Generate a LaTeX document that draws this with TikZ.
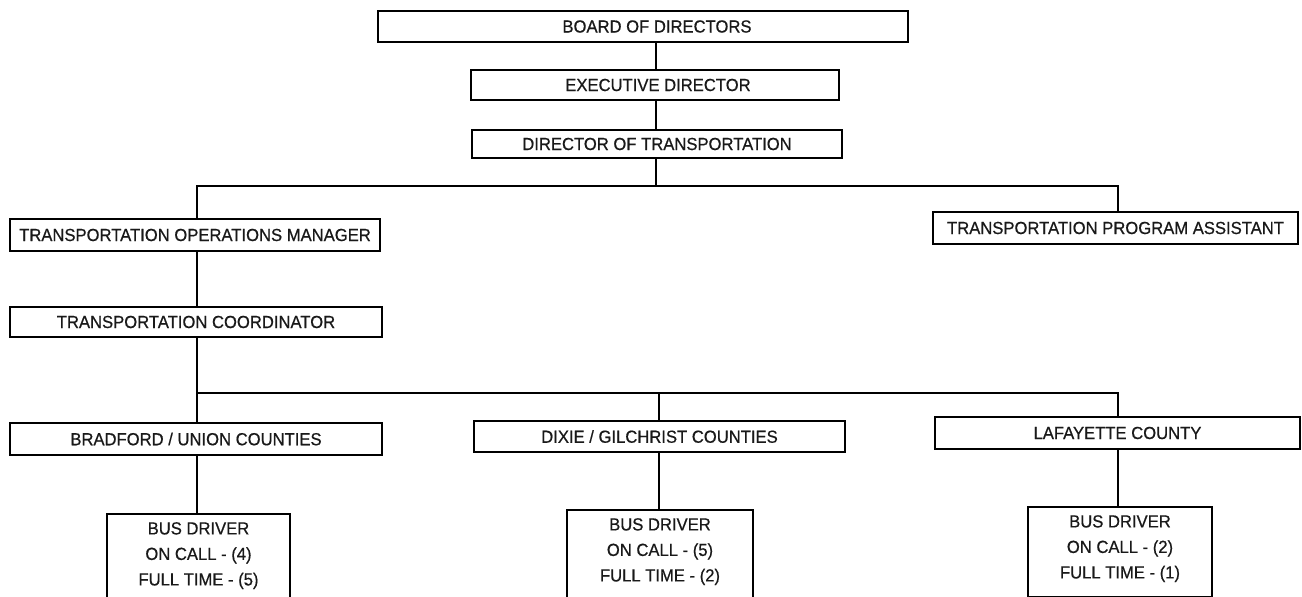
\documentclass[tikz,border=0pt]{standalone}
\usepackage{fontspec}
\setmainfont{Liberation Sans}[FakeStretch=0.95,FakeBold=0.6]
\begin{document}
\begin{tikzpicture}[x=1pt,y=-1pt,
  box/.style={draw, line width=1.6pt, inner sep=0pt, font=\fontsize{17.5}{20}\selectfont, text=black!90},
  wire/.style={line width=1.6pt},
  bustext/.style={anchor=north, inner sep=0pt, align=center, font=\fontsize{17.5}{25.5}\selectfont, text=black!90}]
\useasboundingbox (0,0) rectangle (1302,597);
% boxes
\node[box, minimum width=530pt, minimum height=31pt] (board) at (643,26.5) {\hspace*{28pt}BOARD OF DIRECTORS};
\node[box, minimum width=368pt, minimum height=30pt] (exec) at (655,85) {\hspace*{6pt}EXECUTIVE DIRECTOR};
\node[box, minimum width=370pt, minimum height=28pt] (dot) at (657,144) {DIRECTOR OF TRANSPORTATION};
\node[box, minimum width=370pt, minimum height=32pt] (tom) at (195,235) {TRANSPORTATION OPERATIONS MANAGER};
\node[box, minimum width=365pt, minimum height=32pt] (tpa) at (1115.5,228) {TRANSPORTATION PROGRAM ASSISTANT};
\node[box, minimum width=372pt, minimum height=30pt] (tc) at (196,322) {TRANSPORTATION COORDINATOR};
\node[box, minimum width=372pt, minimum height=32pt] (brad) at (196,439) {BRADFORD / UNION COUNTIES};
\node[box, minimum width=371pt, minimum height=31pt] (dixie) at (659.5,436.5) {DIXIE / GILCHRIST COUNTIES};
\node[box, minimum width=365pt, minimum height=32pt] (laf) at (1117.5,433) {LAFAYETTE COUNTY};
\node[box, anchor=north, minimum width=183pt, minimum height=97pt] (bus1) at (198.5,513) {};
\node[box, anchor=north, minimum width=186pt, minimum height=97pt] (bus2) at (660,509) {};
\node[box, anchor=north, minimum width=184pt, minimum height=90pt] (bus3) at (1120,506) {};
\node[bustext] (bus1t) at ([yshift=-9pt]bus1.north) {BUS DRIVER\\ON CALL - (4)\\FULL TIME - (5)};
\node[bustext] (bus2t) at ([yshift=-9pt]bus2.north) {BUS DRIVER\\ON CALL - (5)\\FULL TIME - (2)};
\node[bustext] (bus3t) at ([yshift=-9pt]bus3.north) {BUS DRIVER\\ON CALL - (2)\\FULL TIME - (1)};
% junction coordinates
\coordinate (c1) at (656,0);
\coordinate (j1) at (656,186);
\coordinate (j1l) at (197,186);
\coordinate (j1r) at (1118,186);
\coordinate (c2) at (197,0);
\coordinate (j2) at (197,393);
\coordinate (j2r) at (1118,393);
\coordinate (c3) at (659,0);
\coordinate (c4) at (1118,0);
% connectors
\draw[wire] (board.south -| c1) -- (exec.north -| c1);
\draw[wire] (exec.south -| c1) -- (dot.north -| c1);
\draw[wire] (dot.south -| c1) -- (j1);
\draw[wire] (tom.north -| j1l) -- (j1l) -- (j1r) -- (tpa.north -| j1r);
\draw[wire] (tom.south -| c2) -- (tc.north -| c2);
\draw[wire] (tc.south -| c2) -- (brad.north -| c2);
\draw[wire] (j2) -- (j2r) -- (laf.north -| j2r);
\draw[wire] (j2 -| c3) -- (dixie.north -| c3);
\draw[wire] (brad.south -| c2) -- (bus1.north -| c2);
\draw[wire] (dixie.south -| c3) -- (bus2.north -| c3);
\draw[wire] (laf.south -| c4) -- (bus3.north -| c4);
\end{tikzpicture}
\end{document}
